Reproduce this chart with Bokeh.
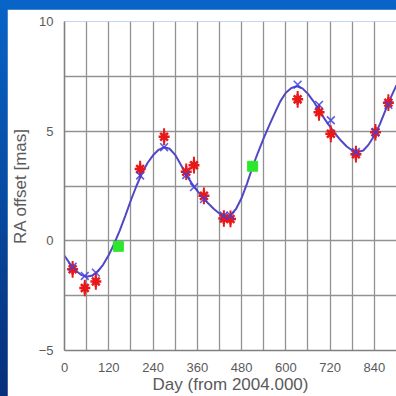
from bokeh.plotting import figure
from bokeh.models import FixedTicker
from bokeh.layouts import column
from bokeh.embed import file_html
from bokeh.resources import INLINE

# Fitted astrometric model (RA offset, mas) sampled along the time axis
curve_day = [0, 15, 30, 45, 60, 75, 90, 105, 120, 135, 150, 165, 180, 195, 210,
             225, 240, 255, 270, 285, 300, 315, 330, 345, 360, 375, 390, 405, 420,
             435, 450, 465, 480, 495, 510, 525, 540, 555, 570, 585, 600, 615, 630,
             645, 660, 675, 690, 705, 720, 735, 750, 765, 780, 795, 810, 825, 840,
             855, 870, 885, 900]
curve_ra = [-0.68, -1.05, -1.35, -1.55, -1.64, -1.58, -1.40, -1.08, -0.65, -0.12,
            0.48, 1.15, 1.85, 2.50, 3.08, 3.55, 3.90, 4.15, 4.27, 4.20, 3.92, 3.48,
            3.02, 2.62, 2.28, 1.98, 1.70, 1.45, 1.25, 1.12, 1.17, 1.45, 1.95, 2.62,
            3.38, 4.05, 4.68, 5.26, 5.82, 6.36, 6.75, 6.97, 7.05, 6.95, 6.70, 6.36,
            5.95, 5.56, 5.20, 4.86, 4.56, 4.30, 4.12, 4.05, 4.12, 4.40, 4.80, 5.32,
            5.95, 6.55, 7.10]

# Observed epochs, measured offsets, their errors and model values
obs_day = [22, 55, 85, 205, 270, 330, 351, 378, 432, 450, 632, 690, 722, 790, 843, 878]
obs_ra = [-1.30, -2.15, -1.85, 3.27, 4.75, 3.15, 3.45, 2.05, 1.02, 1.00,
          6.45, 5.86, 4.88, 3.95, 4.95, 6.30]
obs_err = [0.38] * len(obs_day)
model_ra = [-1.18, -1.60, -1.45, 2.98, 4.27, 3.00, 2.45, 1.90, 1.15, 1.15,
            7.12, 6.20, 5.50, 4.05, 4.95, 6.20]

# Extra epochs shown in green
extra_day = [146, 510]
extra_ra = [-0.25, 3.40]

x_ticks = [0, 120, 240, 360, 480, 600, 720, 840]
x_minor = [60, 180, 300, 420, 540, 660, 780, 900]
y_ticks = [-5, 0, 5, 10]
y_minor = [-2.5, 2.5, 7.5]

FONT = "Liberation Sans"
GREY = "#5a5a5a"
GRID = "#929292"

p = figure(width=389, height=387, x_range=(0, 900), y_range=(-5, 10),
           output_backend="svg", toolbar_location=None,
           min_border_left=56, min_border_right=0, min_border_top=12,
           min_border_bottom=44, outline_line_color=None,
           background_fill_color="white", border_fill_color="white")
p.margin = (9, 0, 0, 7)

p.xaxis.ticker = FixedTicker(ticks=x_ticks, minor_ticks=x_minor)
p.yaxis.ticker = FixedTicker(ticks=y_ticks, minor_ticks=y_minor)
for g in (p.xgrid, p.ygrid):
    g.grid_line_color = GRID
    g.grid_line_width = 1.3
    g.minor_grid_line_color = GRID
    g.minor_grid_line_width = 1.3

for ax in (p.xaxis, p.yaxis):
    ax.axis_line_color = "#808080"
    ax.axis_line_width = 1.6
    ax.major_tick_line_color = None
    ax.minor_tick_line_color = None
    ax.major_label_text_font = FONT
    ax.major_label_text_font_size = "13px"
    ax.major_label_text_color = GREY
    ax.axis_label_text_font = FONT
    ax.axis_label_text_font_size = "17px"
    ax.axis_label_text_font_style = "normal"
    ax.axis_label_text_color = GREY

p.xaxis.axis_label = "Day (from 2004.000)"
p.yaxis.axis_label = "RA offset [mas]"
p.xaxis.major_label_standoff = 6
p.xaxis.axis_label_standoff = 0
p.yaxis.major_label_standoff = 5
p.yaxis.axis_label_standoff = 6

# model curve
p.line(curve_day, curve_ra, line_color="#5048c4", line_width=2)

# measurements with error bars
lower = [v - e for v, e in zip(obs_ra, obs_err)]
upper = [v + e for v, e in zip(obs_ra, obs_err)]
p.segment(x0=obs_day, y0=lower, x1=obs_day, y1=upper,
          line_color="#e81818", line_width=2)
p.scatter(obs_day, obs_ra, marker="asterisk", size=11,
          line_color="#e81818", line_width=2.5)

# model positions at each epoch
p.scatter(obs_day, model_ra, marker="x", size=11,
          line_color="#4040e0", line_width=1.6, alpha=0.85)

# extra epochs
p.scatter(extra_day, extra_ra, marker="square", size=10,
          fill_color="#2ee62e", line_color="#2ee62e")

page = column(p, width=396, height=396,
              styles={"background": "linear-gradient(#0864c8, #07307a)"})

open("out.html", "w").write(file_html(page, INLINE))
